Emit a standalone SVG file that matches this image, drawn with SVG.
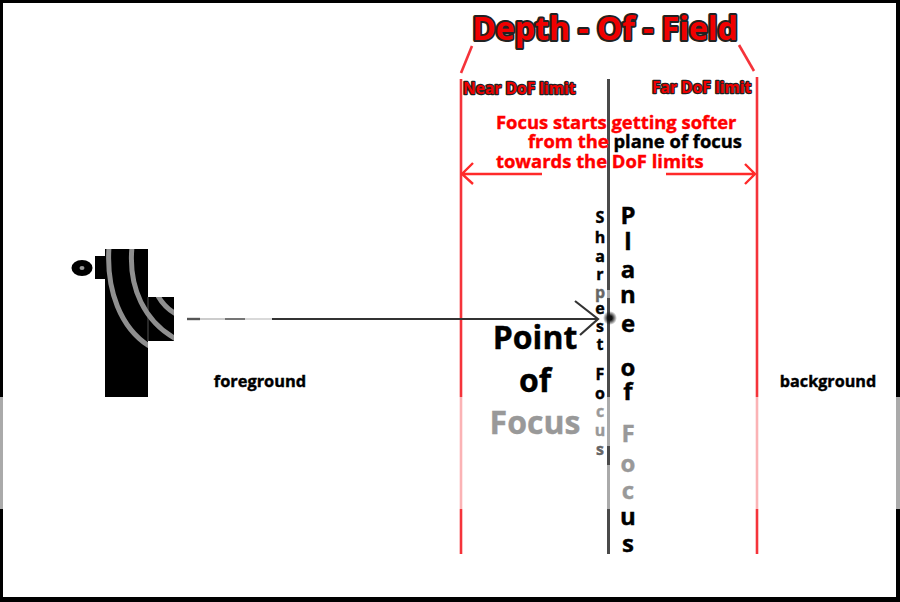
<svg xmlns="http://www.w3.org/2000/svg" width="900" height="602" viewBox="0 0 900 602">
  <style>
    .t { font-family: "Open Sans", "Liberation Sans", sans-serif; font-weight: 700; stroke: currentColor; stroke-width: 0.4; }
    .red { fill: #ff0000; color: #ff0000; }
    .ink { fill: #000; color: #000; }
    .limit { stroke: #f5333a; stroke-width: 2.6; fill: none; }
    .faded { stroke: #fbb3b5; stroke-width: 2.6; fill: none; }
    .axis { stroke: #4a4a4a; stroke-width: 3; fill: none; }
    .axisfade { stroke: #aaa; stroke-width: 3; fill: none; }
    .heading { paint-order: stroke; stroke: #222; stroke-linejoin: round; fill: #f00000; }
    .arc { stroke: #8f8f8f; stroke-width: 5; fill: none; }
    .col { text-anchor: middle; fill: #000; }
    .grey { fill: #999; color: #999; }
    .mid { fill: #666; color: #666; }
  </style>
  <defs>
    <clipPath id="bodyClip"><path d="M105 249H148V297H174V341H148V397H105Z"/></clipPath>
    <radialGradient id="focusSpot">
      <stop offset="0.3" stop-color="#111"/>
      <stop offset="1" stop-color="#111" stop-opacity="0"/>
    </radialGradient>
  </defs>

  <!-- frame -->
  <g id="frame">
    <rect width="900" height="602" fill="#000"/>
    <rect x="0" y="397" width="3" height="112" fill="#aaa"/>
    <rect x="896" y="397" width="4" height="112" fill="#aaa"/>
    <rect x="3" y="3" width="893" height="594" fill="#fff"/>
  </g>

  <g id="subject">
    <ellipse cx="82" cy="268" rx="10.5" ry="8" fill="#000"/>
    <ellipse cx="82" cy="268" rx="2.5" ry="2" fill="#999"/>
    <rect x="95" y="256" width="10" height="23" fill="#000"/>
    <path d="M105 249H148V297H174V341H148V397H105Z" fill="#000"/>
    <path d="M148 297V341" stroke="#777" stroke-width="0.7"/>
    <g clip-path="url(#bodyClip)">
      <path class="arc" d="M109 247C106 291 121 328 149 346"/>
      <path class="arc" d="M132 247C128 288 145 322 176 339"/>
      <path class="arc" d="M158 296C162 303 167 309 176 314"/>
    </g>
  </g>

  <g id="connectors">
    <g id="near-limit">
      <path class="limit" d="M461 79V397"/>
      <path class="faded" d="M461 397V509"/>
      <path class="limit" d="M461 509V554"/>
      <path class="limit" d="M472 46L461 73"/>
    </g>
    <g id="far-limit">
      <path class="limit" d="M757 77V397"/>
      <path class="faded" d="M757 397V509"/>
      <path class="limit" d="M757 509V554"/>
      <path class="limit" d="M739 45L754 71"/>
    </g>
    <g id="focal-plane">
      <path class="axis" d="M608.5 79V290"/>
      <path class="axisfade" d="M608.5 290V298"/>
      <path class="axis" d="M608.5 298V397"/>
      <path class="axisfade" d="M608.5 397V446"/>
      <path class="axis" d="M608.5 446V465"/>
      <path class="axisfade" d="M608.5 465V509"/>
      <path class="axis" d="M608.5 509V554"/>
      <circle cx="610" cy="318" r="7" fill="url(#focusSpot)"/>
    </g>
    <g id="softening-arrows">
      <path d="M542 174H463M473 163L462 174L473 184" stroke="#ff2a2a" stroke-width="2.4" fill="none"/>
      <path d="M666 174H755M745 164L755 174L745 184" stroke="#ff2a2a" stroke-width="2.4" fill="none"/>
    </g>
    <g id="focus-ray">
      <path d="M187 319H200" stroke="#555" stroke-width="2.4" fill="none"/>
      <path d="M200 319H225" stroke="#bbb" stroke-width="1.5" fill="none"/>
      <path d="M225 319H245" stroke="#666" stroke-width="1.8" fill="none"/>
      <path d="M245 319H272" stroke="#ccc" stroke-width="1.5" fill="none"/>
      <path d="M272 319H597" stroke="#333" stroke-width="2.2" fill="none"/>
      <path d="M575 301L598 319L580 335" stroke="#333" stroke-width="2.2" fill="none"/>
    </g>
  </g>

  <g id="title">
    <text class="t heading" x="605" y="40" text-anchor="middle" font-size="32" style="stroke:#222;stroke-width:4">Depth - Of - Field</text>
  </g>
  <g id="near-label">
    <text class="t heading" x="463" y="94" font-size="15.6" style="stroke:#222;stroke-width:2.4">Near DoF limit</text>
  </g>
  <g id="far-label">
    <text class="t heading" x="652" y="93" font-size="15.6" style="stroke:#222;stroke-width:2.4">Far DoF limit</text>
  </g>
  <g id="softening-note">
    <text class="t red" font-size="18.4"><tspan x="496" y="129">Focus starts getting softer</tspan><tspan x="528" y="148">from the <tspan class="ink">plane of focus</tspan></tspan><tspan x="496" y="168">towards the DoF limits</tspan></text>
  </g>

  <g id="sharpest-label">
    <text class="t col" font-size="16"><tspan x="600" y="223">S</tspan><tspan x="600" y="243">h</tspan><tspan x="600" y="262">a</tspan><tspan x="600" y="280">r</tspan><tspan x="600" y="298" class="mid">p</tspan><tspan x="600" y="314">e</tspan><tspan x="600" y="332">s</tspan><tspan x="600" y="350">t</tspan><tspan x="600" y="380">F</tspan><tspan x="600" y="399">o</tspan><tspan x="600" y="417" class="grey">c</tspan><tspan x="600" y="436" class="grey">u</tspan><tspan x="600" y="455" class="mid">s</tspan></text>
  </g>

  <g id="plane-label">
    <text class="t col" font-size="24"><tspan x="628" y="224">P</tspan><tspan x="628" y="250">l</tspan><tspan x="628" y="278">a</tspan><tspan x="628" y="303">n</tspan><tspan x="628" y="332">e</tspan><tspan x="628" y="376">o</tspan><tspan x="628" y="400">f</tspan><tspan x="628" y="442" class="grey">F</tspan><tspan x="628" y="472" class="grey">o</tspan><tspan x="628" y="499" class="grey">c</tspan><tspan x="628" y="525">u</tspan><tspan x="628" y="552">s</tspan></text>
  </g>

  <g id="point-label">
    <text class="t" text-anchor="middle" font-size="32"><tspan x="535" y="349">Point</tspan><tspan x="535" y="392">of</tspan><tspan x="535" y="434" class="grey">Focus</tspan></text>
  </g>

  <g id="foreground-label">
    <text class="t" x="260" y="387" text-anchor="middle" font-size="16.4">foreground</text>
  </g>
  <g id="background-label">
    <text class="t" x="828" y="387" text-anchor="middle" font-size="16.2">background</text>
  </g>
</svg>
